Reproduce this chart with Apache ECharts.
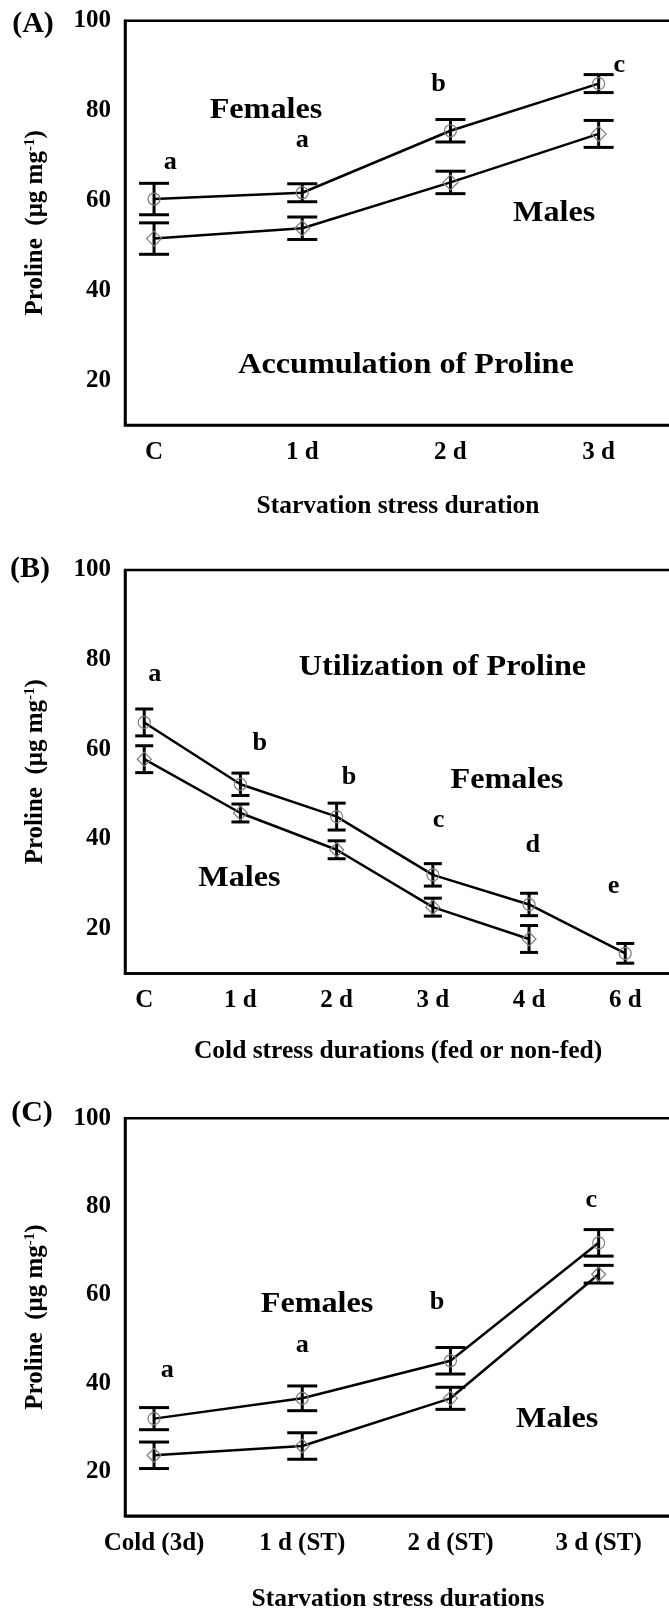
<!DOCTYPE html>
<html><head><meta charset="utf-8">
<script src="https://cdn.jsdelivr.net/npm/echarts@6/dist/echarts.min.js"></script>
<style>html,body{margin:0;padding:0;background:#fff}#c{width:669px;height:1612px}</style>
</head><body><div id="c"></div>
<script>
// ---------- Data ----------
// Panel A: accumulation (starvation)
const catsA = ['C', '1 d', '2 d', '3 d'];
const femA = [60.3, 61.7, 75.5, 86.0];
const femAErr = [3.5, 2.0, 2.5, 2.0];
const maleA = [51.5, 53.8, 64.0, 74.8];
const maleAErr = [3.5, 2.5, 2.5, 3.0];
const lettersA = ['a', 'a', 'b', 'c'];
// Panel B: utilization (cold)
const catsB = ['C', '1 d', '2 d', '3 d', '4 d', '6 d'];
const femB = [66.0, 52.2, 45.0, 32.0, 25.4, 14.5];
const femBErr = [3.0, 2.5, 3.0, 2.5, 2.5, 2.2];
const maleB = [57.8, 45.8, 37.6, 24.8, 17.7];
const maleBErr = [3.0, 2.0, 2.0, 2.0, 3.0];
const lettersB = ['a', 'b', 'b', 'c', 'd', 'e'];
// Panel C: cold then starvation
const catsC = ['Cold (3d)', '1 d (ST)', '2 d (ST)', '3 d (ST)'];
const femC = [32.0, 36.6, 45.1, 71.8];
const femCErr = [2.5, 2.8, 3.0, 3.0];
const maleC = [23.7, 25.8, 36.6, 64.7];
const maleCErr = [3.0, 3.0, 2.5, 2.0];
const lettersC = ['a', 'a', 'b', 'c'];
const yMin = 10, yMax = 100, yLabelStep = 20;

// ---------- Layout (pixels / data-unit placements) ----------
const FONT = '"Liberation Serif","Times New Roman",serif';
const GRID_W = 600;
const grids = [
  {left: 125, top: 20.7, height: 404.3, xMin: -0.196, step: 148.2, cap: 15},
  {left: 125, top: 570, height: 403.5, xMin: -0.2, step: 96.2, cap: 9},
  {left: 125, top: 1118.3, height: 397.5, xMin: -0.196, step: 148.2, cap: 15}
];
const cats = [catsA, catsB, catsC];
const letters = [lettersA, lettersB, lettersC];
// letter positions (data units): [dx from category, y value]
const letterPos = [
  [[0.11, 68.5], [0.0, 73.4], [-0.08, 85.7], [0.14, 90.1]],
  [[0.11, 76.6], [0.20, 61.4], [0.13, 53.6], [0.06, 44.2], [0.04, 38.6], [-0.12, 29.3]],
  [[0.09, 43.0], [0.0, 48.5], [-0.09, 58.2], [-0.05, 81.4]]
];
const labels = [
  {g: 0, t: 'Females', x: 0.755, y: 80.1},
  {g: 0, t: 'Males', x: 2.70, y: 57.1},
  {g: 0, t: 'Accumulation of Proline', x: 1.70, y: 23.3},
  {g: 1, t: 'Utilization of Proline', x: 3.10, y: 78.3},
  {g: 1, t: 'Females', x: 3.77, y: 53.1},
  {g: 1, t: 'Males', x: 0.99, y: 31.2},
  {g: 2, t: 'Females', x: 1.10, y: 57.9},
  {g: 2, t: 'Males', x: 2.72, y: 31.7}
];
const xTitles = ['Starvation stress duration', 'Cold stress durations (fed or non-fed)', 'Starvation stress durations'];
const xTitleY = [506, 1051, 1599];
const tags = ['(A)', '(B)', '(C)'];
const tagPos = [[33, 24], [30, 569], [32, 1113]];

// ---------- Build ----------
const chart = echarts.init(document.getElementById('c'), null, {renderer: 'canvas'});

function errSeries(gi, vals, errs, capHalf) {
  return {
    type: 'custom', xAxisIndex: gi, yAxisIndex: gi, silent: true, z: 3,
    data: vals.map((v, i) => [i, v - errs[i], v + errs[i]]),
    renderItem(params, api) {
      const x = api.value(0);
      const lo = api.coord([x, api.value(1)]);
      const hi = api.coord([x, api.value(2)]);
      const st = {stroke: '#000', lineWidth: 3};
      return {type: 'group', children: [
        {type: 'line', shape: {x1: lo[0], y1: lo[1], x2: hi[0], y2: hi[1]}, style: st},
        {type: 'line', shape: {x1: lo[0] - capHalf, y1: lo[1], x2: lo[0] + capHalf, y2: lo[1]}, style: st},
        {type: 'line', shape: {x1: hi[0] - capHalf, y1: hi[1], x2: hi[0] + capHalf, y2: hi[1]}, style: st}
      ]};
    }
  };
}
function lineSeries(gi, vals, sym, size) {
  return {
    type: 'line', xAxisIndex: gi, yAxisIndex: gi, z: 4, silent: true,
    data: vals.map((v, i) => [i, v]),
    symbol: sym, symbolSize: size, showSymbol: true,
    lineStyle: {color: '#000', width: 2.5},
    itemStyle: {color: 'rgba(255,255,255,0)', borderColor: '#7a7a7a', borderWidth: 1.2}
  };
}

const option = {
  animation: false,
  grid: grids.map(g => ({left: g.left, top: g.top, height: g.height, width: GRID_W, show: true,
    borderColor: '#000', borderWidth: 2.5, containLabel: false, outerBoundsMode: 'none'})),
  xAxis: grids.map((g, gi) => ({
    type: 'value', gridIndex: gi, min: g.xMin, max: g.xMin + GRID_W / g.step,
    axisLine: {show: true, onZero: false, lineStyle: {color: '#000', width: 2.5}},
    axisTick: {show: false}, splitLine: {show: false},
    axisLabel: {customValues: cats[gi].map((c, i) => i), formatter: v => cats[gi][Math.round(v)] || '',
      color: '#000', fontFamily: FONT, fontWeight: 'bold', fontSize: 25, margin: 15}
  })),
  yAxis: grids.map((g, gi) => ({
    type: 'value', gridIndex: gi, min: yMin, max: yMax, interval: 10,
    axisLine: {show: true, onZero: false, lineStyle: {color: '#000', width: 2.5}},
    axisTick: {show: false}, splitLine: {show: false},
    axisLabel: {formatter: v => (v % yLabelStep === 0 ? String(v) : ''), color: '#000',
      fontFamily: FONT, fontWeight: 'bold', fontSize: 25, margin: 14}
  })),
  series: [
    errSeries(0, femA, femAErr, grids[0].cap), errSeries(0, maleA, maleAErr, grids[0].cap),
    lineSeries(0, femA, 'circle', 12), lineSeries(0, maleA, 'diamond', 15),
    errSeries(1, femB, femBErr, grids[1].cap), errSeries(1, maleB, maleBErr, grids[1].cap),
    lineSeries(1, femB, 'circle', 12), lineSeries(1, maleB, 'diamond', 14),
    errSeries(2, femC, femCErr, grids[2].cap), errSeries(2, maleC, maleCErr, grids[2].cap),
    lineSeries(2, femC, 'circle', 12), lineSeries(2, maleC, 'diamond', 14)
  ]
};
chart.setOption(option);

const graphic = [];
function txt(x, y, text, size, sx, extra) {
  return Object.assign({type: 'text', x: x, y: y, scaleX: sx || 1, silent: true, z: 10,
    style: {text: text, fill: '#000', font: 'bold ' + size + 'px ' + FONT, textAlign: 'center', textVerticalAlign: 'middle'}}, extra || {});
}
letters.forEach((arr, gi) => arr.forEach((l, i) => {
  const p = chart.convertToPixel({gridIndex: gi}, [i + letterPos[gi][i][0], letterPos[gi][i][1]]);
  graphic.push(txt(p[0], p[1], l, 25, 1.05));
}));
labels.forEach(a => {
  const p = chart.convertToPixel({gridIndex: a.g}, [a.x, a.y]);
  graphic.push(txt(p[0], p[1], a.t, 29, 1.11));
});
grids.forEach((g, gi) => {
  graphic.push(txt(398, xTitleY[gi], xTitles[gi], 25.5, 1));
  graphic.push(txt(tagPos[gi][0], tagPos[gi][1], tags[gi], 30, 1.0));
  graphic.push({type: 'text', x: 36, y: g.top + g.height / 2, rotation: Math.PI / 2, silent: true, z: 10,
    style: {text: '{a|Proline  (μg mg}{b|-1}{a|)}', textAlign: 'center', textVerticalAlign: 'middle', fill: '#000',
      rich: {a: {fontFamily: FONT, fontWeight: 'bold', fontSize: 25, fill: '#000'},
             b: {fontFamily: FONT, fontWeight: 'bold', fontSize: 15, fill: '#000', padding: [0, 0, 12, 0]}}}});
});
chart.setOption({graphic: graphic});
</script></body></html>
